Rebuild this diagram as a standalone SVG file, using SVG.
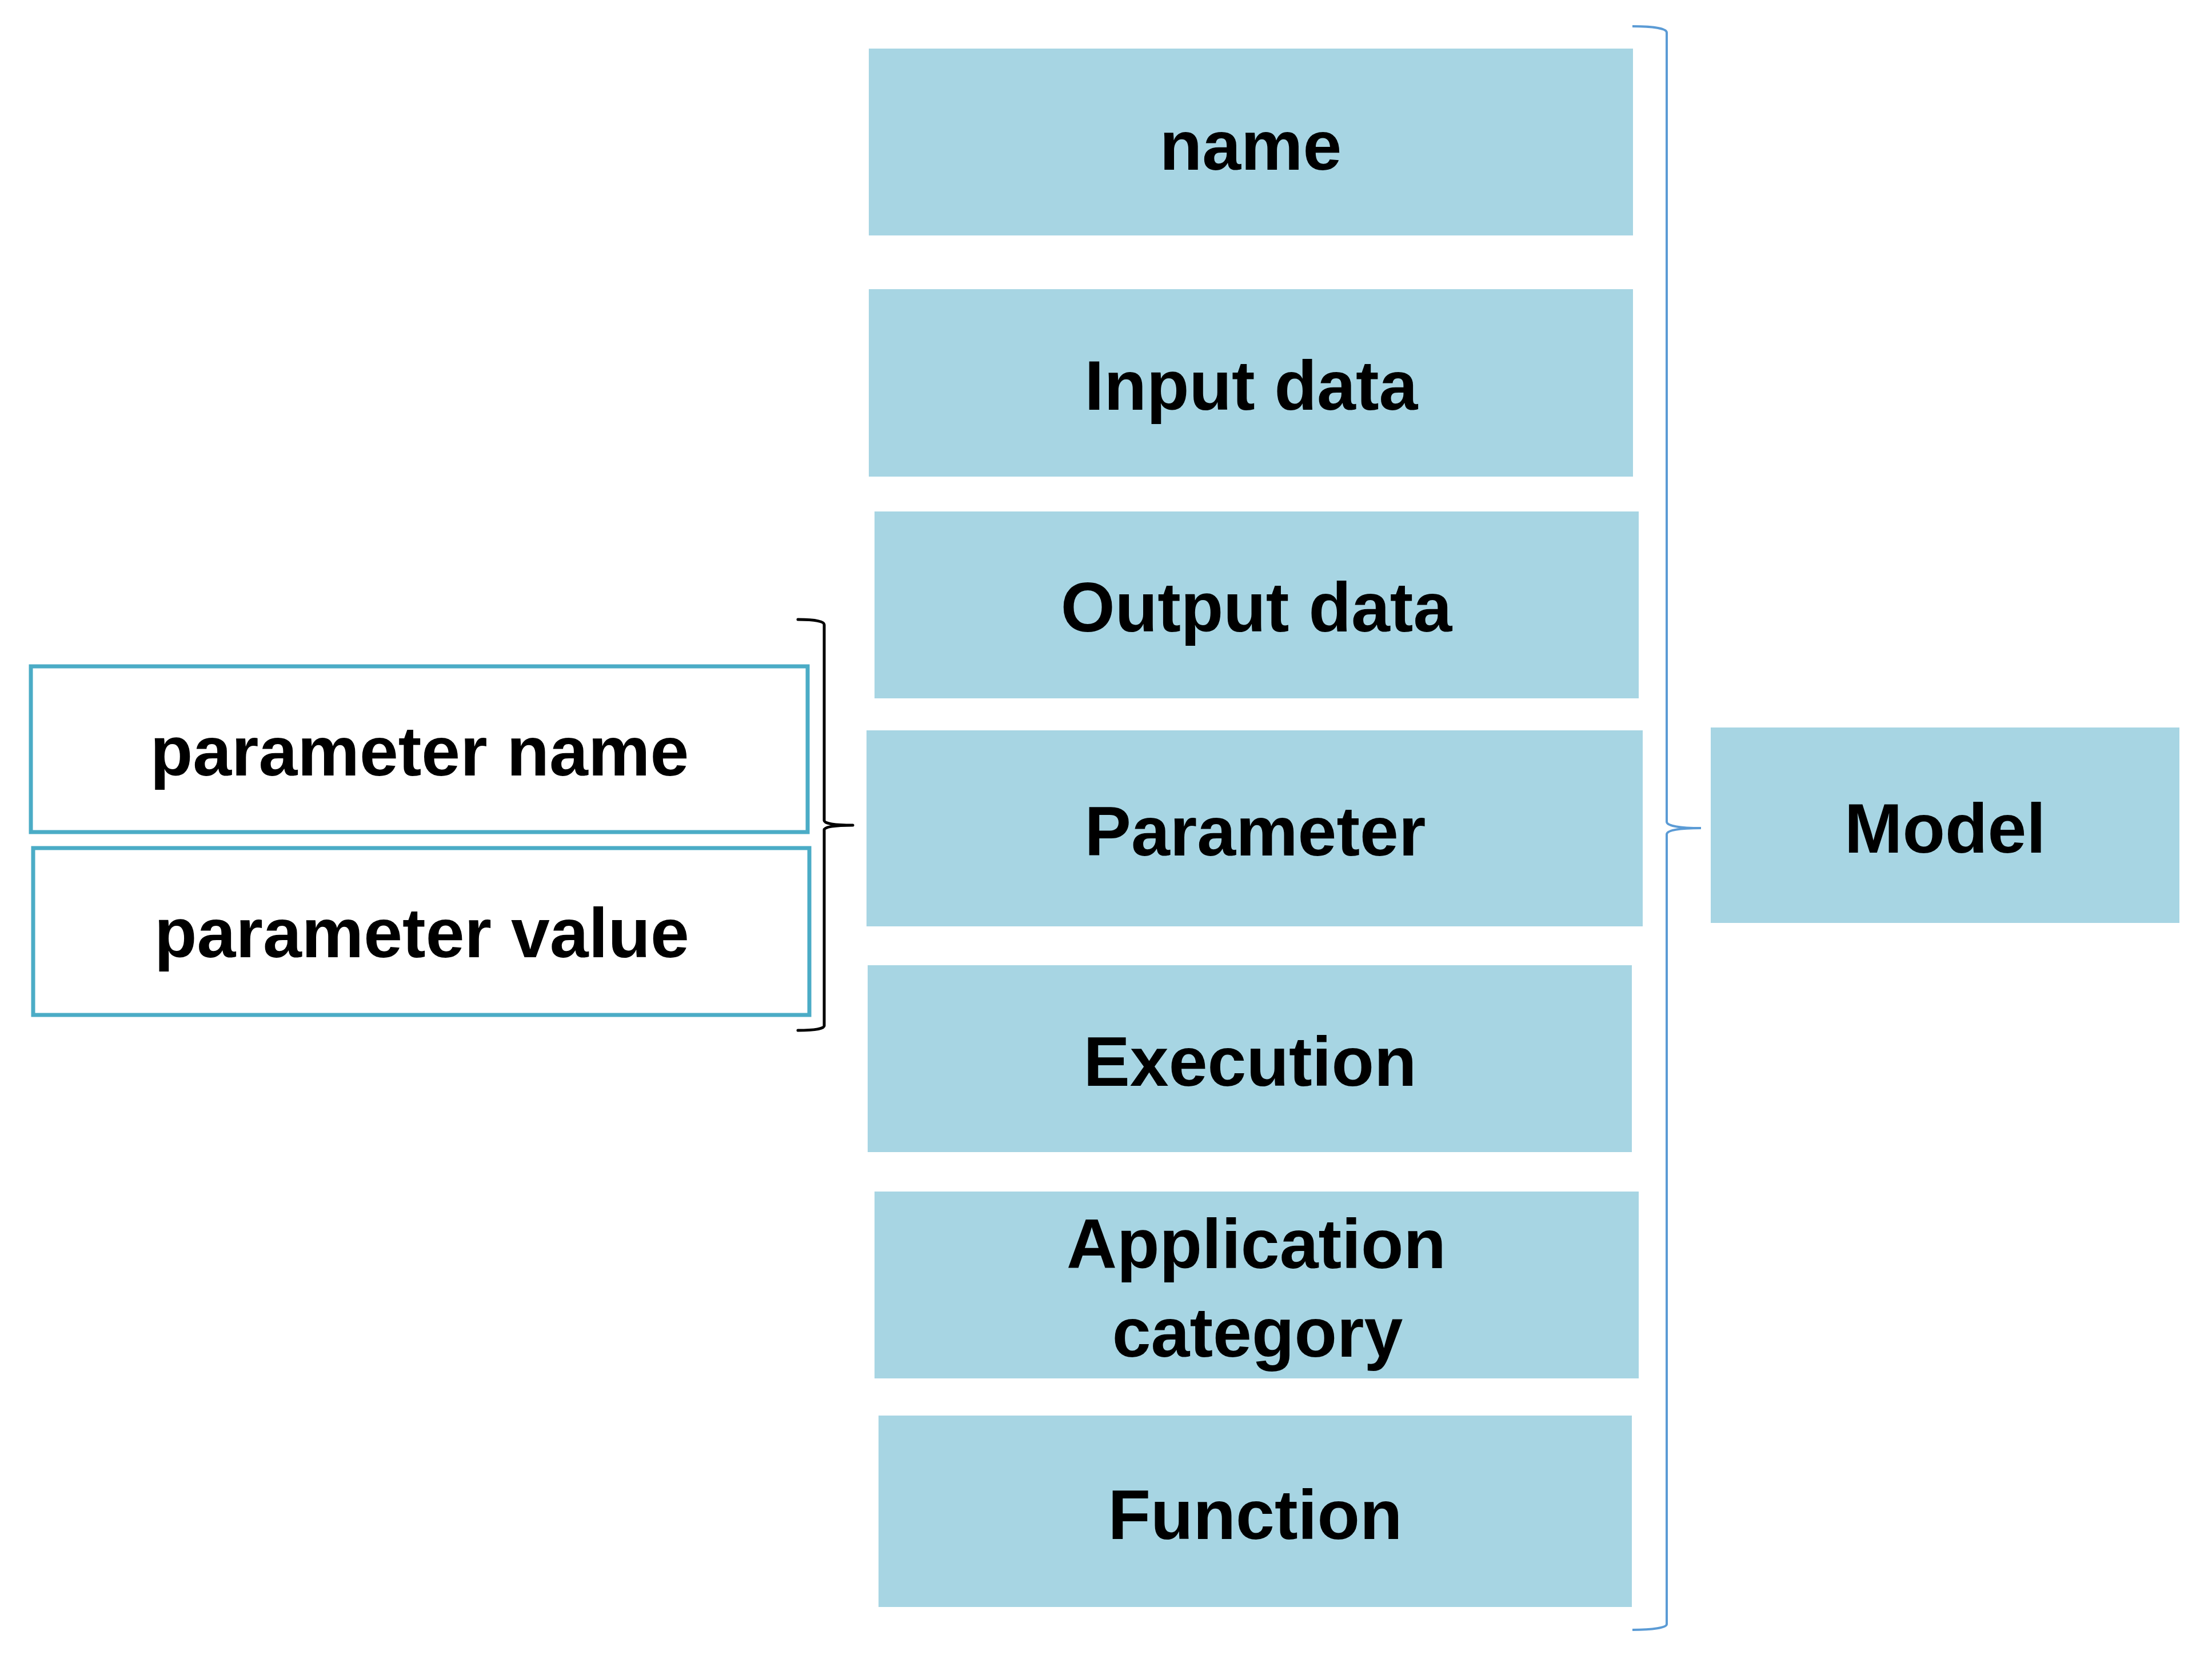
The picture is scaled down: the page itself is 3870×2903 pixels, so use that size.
<svg xmlns="http://www.w3.org/2000/svg" width="3870" height="2903" viewBox="0 0 3870 2903">
  <style>
    .box { fill: #A7D5E3; }
    .pbox { fill: #FFFFFF; stroke: #4BACC6; stroke-width: 7; }
    .lbl { font-family: "Liberation Sans", Arial, sans-serif; font-weight: bold; font-size: 122px; fill: #000000; text-anchor: middle; }
    .brace-blue { fill: none; stroke: #5B9BD5; stroke-width: 4; stroke-linecap: butt; }
    .brace-black { fill: none; stroke: #000000; stroke-width: 5; stroke-linecap: round; stroke-linejoin: round; }
  </style>
  <rect width="3870" height="2903" fill="#FFFFFF"/>

  <g id="node-name">
    <rect class="box" x="1520" y="85" width="1337" height="327"/>
    <text class="lbl" x="2188" y="297">name</text>
  </g>
  <g id="node-input-data">
    <rect class="box" x="1520" y="506" width="1337" height="328"/>
    <text class="lbl" x="2189" y="717">Input data</text>
  </g>
  <g id="node-output-data">
    <rect class="box" x="1530" y="895" width="1337" height="327"/>
    <text class="lbl" x="2198" y="1105">Output data</text>
  </g>
  <g id="node-parameter">
    <rect class="box" x="1516" y="1278" width="1358" height="343"/>
    <text class="lbl" x="2196" y="1497">Parameter</text>
  </g>
  <g id="node-execution">
    <rect class="box" x="1518" y="1689" width="1337" height="327"/>
    <text class="lbl" x="2187" y="1900">Execution</text>
  </g>
  <g id="node-application-category">
    <rect class="box" x="1530" y="2085" width="1337" height="327"/>
    <text class="lbl" x="2198" y="2219">Application</text>
    <text class="lbl" x="2200" y="2374">category</text>
  </g>
  <g id="node-function">
    <rect class="box" x="1537" y="2477" width="1318" height="335"/>
    <text class="lbl" x="2196" y="2693">Function</text>
  </g>
  <g id="node-model">
    <rect class="box" x="2993" y="1273" width="820" height="342"/>
    <text class="lbl" x="3403" y="1492">Model</text>
  </g>
  <g id="node-parameter-name">
    <rect class="pbox" x="54" y="1166" width="1359" height="290"/>
    <text class="lbl" x="734" y="1357">parameter name</text>
  </g>
  <g id="node-parameter-value">
    <rect class="pbox" x="58" y="1484" width="1358" height="292"/>
    <text class="lbl" x="738" y="1675">parameter value</text>
  </g>

  <g id="connectors">
    <path class="brace-blue" d="M2856,46 C2892,46 2916,50 2916,57 L2916,1438 C2916,1445 2938,1449 2976,1449 C2938,1449 2916,1453 2916,1460 L2916,2842 C2916,2848 2892,2852 2856,2852"/>
    <path class="brace-black" d="M1396,1084 C1426,1084 1442,1087 1442,1093 L1442,1436 C1442,1441 1460,1444 1492,1444 C1460,1444 1442,1447 1442,1452 L1442,1795 C1442,1800 1426,1803 1396,1803"/>
  </g>
</svg>
